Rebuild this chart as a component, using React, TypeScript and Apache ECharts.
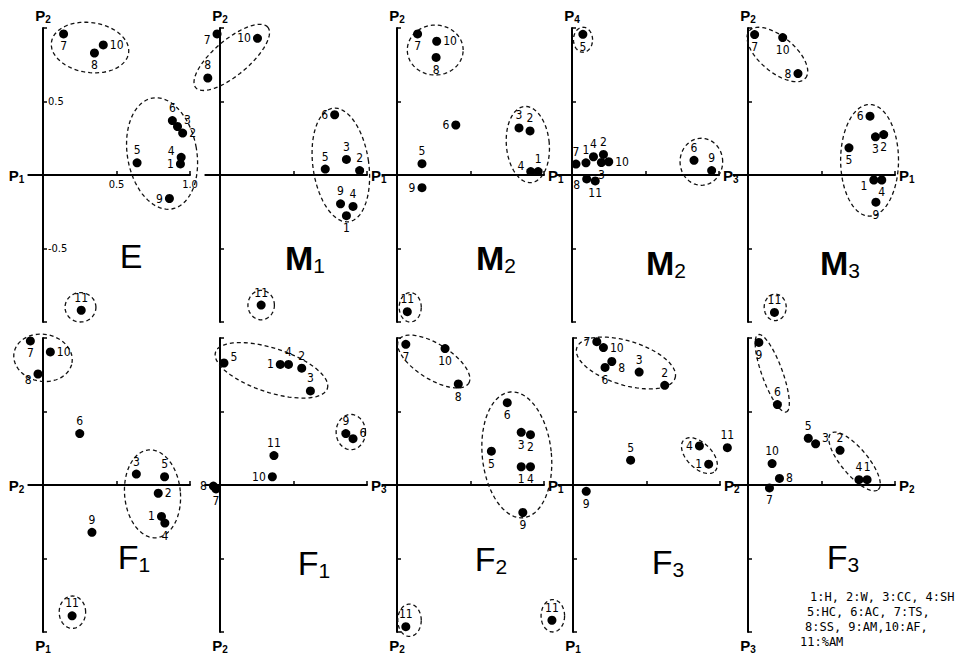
import React, { useEffect, useRef } from 'react';
import * as echarts from 'echarts';

// ---------- data ----------
const IDS_11 = [1, 2, 3, 4, 5, 6, 7, 8, 9, 10, 11];
const IDS_F2 = [1, 2, 3, 4, 5, 6, 7, 8, 9, 10, 11, 11];
const IDS_10 = [1, 2, 3, 4, 5, 6, 7, 8, 9, 10];

// E : P2 vs P1
const E_X = [0.935, 0.95, 0.915, 0.94, 0.64, 0.88, 0.14, 0.35, 0.86, 0.41, 0.26];
const E_Y = [0.075, 0.285, 0.33, 0.12, 0.083, 0.37, 0.96, 0.83, -0.16, 0.885, -0.92];
// M1 : P2 vs P1
const M1_X = [0.86, 0.95, 0.86, 0.905, 0.716, 0.78, -0.02, -0.083, 0.82, 0.255, 0.28];
const M1_Y = [-0.277, 0.03, 0.106, -0.214, 0.04, 0.41, 0.96, 0.66, -0.196, 0.93, -0.885];
// M2 : P2 vs P1
const M2A_X = [0.96, 0.905, 0.83, 0.91, 0.17, 0.4, 0.14, 0.266, 0.17, 0.27, 0.07];
const M2A_Y = [0.023, 0.3, 0.32, 0.023, 0.077, 0.34, 0.96, 0.8, -0.086, 0.91, -0.93];
// M2 : P4 vs P3
const M2B_X = [0.095, 0.214, 0.2, 0.146, 0.074, 0.83, 0.027, 0.1, 0.95, 0.25, 0.158];
const M2B_Y = [0.083, 0.14, 0.085, 0.124, 0.957, 0.1, 0.074, -0.027, 0.03, 0.09, -0.04];
// M3 : P2 vs P1
const M3_X = [0.856, 0.923, 0.867, 0.91, 0.687, 0.83, 0.045, 0.34, 0.87, 0.236, 0.18];
const M3_Y = [-0.034, 0.275, 0.26, -0.034, 0.185, 0.4, 0.955, 0.69, -0.185, 0.935, -0.935];
// F1 : P1 vs P2
const F1A_X = [0.806, 0.784, 0.635, 0.829, 0.827, 0.25, -0.086, -0.034, 0.333, 0.05, 0.198];
const F1A_Y = [-0.214, -0.056, 0.074, -0.259, 0.056, 0.35, 0.98, 0.755, -0.322, 0.905, -0.89];
// F1 : P2 vs P3
const F1B_X = [0.41, 0.556, 0.615, 0.466, 0.027, 0.905, -0.027, -0.045, 0.856, 0.356, 0.367];
const F1B_Y = [0.82, 0.795, 0.64, 0.82, 0.83, 0.315, -0.027, -0.007, 0.35, 0.056, 0.2];
// F2 : P2 vs P1
const F2_X = [0.845, 0.908, 0.845, 0.908, 0.642, 0.75, 0.06, 0.417, 0.856, 0.327, 0.06, 1.054];
const F2_Y = [0.124, 0.342, 0.358, 0.124, 0.23, 0.56, 0.957, 0.687, -0.187, 0.928, -0.964, -0.92];
// F3 : P1 vs P2
const F3A_X = [0.923, 0.624, 0.45, 0.86, 0.392, 0.218, 0.162, 0.264, 0.09, 0.207, 1.05];
const F3A_Y = [0.142, 0.678, 0.768, 0.266, 0.169, 0.8, 0.975, 0.84, -0.043, 0.935, 0.254];
// F3 : P3 vs P2
const F3B_X = [0.81, 0.626, 0.46, 0.755, 0.41, 0.2, 0.146, 0.214, 0.074, 0.164];
const F3B_Y = [0.036, 0.236, 0.28, 0.036, 0.318, 0.547, -0.02, 0.045, 0.97, 0.146];

// dashed cluster outlines: [cx, cy, rx, ry, rotationDeg] in data units
const E_CL = [[0.32, 0.867, 0.265, 0.17, -8], [0.81, 0.146, 0.236, 0.383, 10], [0.255, -0.9, 0.105, 0.1, 0]];
const M1_CL = [[0.08, 0.8, 0.32, 0.12, 40], [0.822, 0.068, 0.19, 0.39, 8], [0.28, -0.885, 0.09, 0.1, 0]];
const M2A_CL = [[0.26, 0.85, 0.19, 0.17, 0], [0.89, 0.207, 0.146, 0.26, 5], [0.09, -0.9, 0.075, 0.1, 0]];
const M2B_CL = [[0.075, 0.92, 0.065, 0.085, 0], [0.88, 0.09, 0.145, 0.16, 0]];
const M3_CL = [[0.2, 0.82, 0.25, 0.12, -40], [0.827, 0.1, 0.197, 0.38, 0], [0.185, -0.9, 0.075, 0.09, 0]];
const F1A_CL = [[0.0, 0.865, 0.2, 0.16, -10], [0.745, -0.06, 0.19, 0.3, 5], [0.2, -0.865, 0.09, 0.11, 0]];
const F1B_CL = [[0.35, 0.78, 0.4, 0.15, -18], [0.89, 0.36, 0.1, 0.12, 0]];
const F2_CL = [[0.25, 0.84, 0.28, 0.12, -32], [0.815, 0.205, 0.235, 0.43, 6], [0.085, -0.92, 0.08, 0.11, 0], [1.06, -0.89, 0.08, 0.11, 0]];
const F3A_CL = [[0.36, 0.83, 0.35, 0.15, -17], [0.86, 0.2, 0.15, 0.085, -45]];
const F3B_CL = [[0.165, 0.76, 0.28, 0.07, -70], [0.725, 0.16, 0.25, 0.09, -50]];

// label placement per point (style)
const E_LB = ['l', 'r', 'tr', 'tl', 't', 't', 'b', 'b', 'l', 'r', 't'];
const M1_LB = ['b', 't', 't', 't', 't', 'l', 'bl', 't', 't', 'l', 't'];
const M2A_LB = ['t', 't', 't', 'tl', 't', 'l', 'b', 'b', 'l', 'r', 't'];
const M2B_LB = ['t', 't', 'b', 't', 'b', 't', 't', 'bl', 't', 'r', 'b'];
const M3_LB = ['bl', 'b', 'b', 'b', 'b', 'l', 'b', 'l', 'b', 'b', 't'];
const F1A_LB = ['l', 'r', 't', 'b', 't', 't', 'b', 'bl', 't', 'r', 't'];
const F1B_LB = ['l', 't', 't', 't', 'tr', 'tr', 'b', 'l', 't', 'l', 't'];
const F2_LB = ['b', 'b', 'b', 'b', 'b', 'b', 'b', 'b', 'b', 'b', 't', 't'];
const F3A_LB = ['l', 't', 't', 'l', 't', 'b', 'l', 'br', 'b', 'r', 't'];
const F3B_LB = ['t', 't', 'tr', 't', 't', 't', 'b', 'r', 'b', 't'];

const LEGEND_LINES = ['1:H, 2:W, 3:CC, 4:SH', '5:HC, 6:AC, 7:TS,', '8:SS, 9:AM,10:AF,', '11:%AM'];

// ---------- layout / style ----------
const U = 147;
const INK = '#000';
const LABEL_FONT = "'Liberation Sans Narrow', 'DejaVu Sans Condensed', 'Liberation Sans', Arial, sans-serif";
const TITLE_FONT = "'Liberation Sans', Arial, sans-serif";

const PANELS = [
  { t: ['E', ''], ids: IDS_11, xs: E_X, ys: E_Y, lb: E_LB, cl: E_CL, xn: '1', yn: '2', xLoc: 'start', yLoc: 'end', ax: 43, ay: 175, tc: [131, 256], bold: false },
  { t: ['M', '1'], ids: IDS_11, xs: M1_X, ys: M1_Y, lb: M1_LB, cl: M1_CL, xn: '1', yn: '2', xLoc: 'end', yLoc: 'end', ax: 220, ay: 175, tc: [305, 258], bold: true },
  { t: ['M', '2'], ids: IDS_11, xs: M2A_X, ys: M2A_Y, lb: M2A_LB, cl: M2A_CL, xn: '1', yn: '2', xLoc: 'end', yLoc: 'end', ax: 397, ay: 175, tc: [496, 258], bold: true },
  { t: ['M', '2'], ids: IDS_11, xs: M2B_X, ys: M2B_Y, lb: M2B_LB, cl: M2B_CL, xn: '3', yn: '4', xLoc: 'end', yLoc: 'end', ax: 572, ay: 175, tc: [666, 263], bold: true },
  { t: ['M', '3'], ids: IDS_11, xs: M3_X, ys: M3_Y, lb: M3_LB, cl: M3_CL, xn: '1', yn: '2', xLoc: 'end', yLoc: 'end', ax: 748, ay: 175, tc: [840, 263], bold: true },
  { t: ['F', '1'], ids: IDS_11, xs: F1A_X, ys: F1A_Y, lb: F1A_LB, cl: F1A_CL, xn: '2', yn: '1', xLoc: 'start', yLoc: 'start', ax: 43, ay: 485, tc: [134, 557], bold: false },
  { t: ['F', '1'], ids: IDS_11, xs: F1B_X, ys: F1B_Y, lb: F1B_LB, cl: F1B_CL, xn: '3', yn: '2', xLoc: 'end', yLoc: 'start', ax: 220, ay: 485, tc: [314, 563], bold: false },
  { t: ['F', '2'], ids: IDS_F2, xs: F2_X, ys: F2_Y, lb: F2_LB, cl: F2_CL, xn: '1', yn: '2', xLoc: 'end', yLoc: 'start', ax: 397, ay: 485, tc: [491, 559], bold: false },
  { t: ['F', '3'], ids: IDS_11, xs: F3A_X, ys: F3A_Y, lb: F3A_LB, cl: F3A_CL, xn: '2', yn: '1', xLoc: 'end', yLoc: 'start', ax: 573, ay: 485, tc: [668, 562], bold: false },
  { t: ['F', '3'], ids: IDS_10, xs: F3B_X, ys: F3B_Y, lb: F3B_LB, cl: F3B_CL, xn: '2', yn: '3', xLoc: 'end', yLoc: 'start', ax: 748, ay: 485, tc: [843, 557], bold: false },
];

const POS: Record<string, any> = {
  t: { position: 'top' },
  b: { position: 'bottom' },
  l: { position: 'left' },
  r: { position: 'right' },
  tl: { position: 'left', offset: [0, -6] },
  bl: { position: 'left', offset: [0, 6] },
  tr: { position: 'right', offset: [0, -6] },
  br: { position: 'right', offset: [0, 6] },
};

const LABEL_STYLE = { show: true, formatter: '{b}', fontSize: 12, color: INK, fontFamily: LABEL_FONT, distance: 2 };

const nameStyle = {
  rich: {
    p: { fontSize: 15, fontWeight: 'bold', fontFamily: TITLE_FONT, color: INK, lineHeight: 18 },
    s: { fontSize: 10, fontWeight: 'bold', fontFamily: TITLE_FONT, color: INK, lineHeight: 10, verticalAlign: 'bottom' },
  },
};

const renderEllipse = (params: any, api: any) => {
  const cx = api.value(0), cy = api.value(1), rx = api.value(2), ry = api.value(3);
  const rot = (api.value(4) * Math.PI) / 180;
  const pts: number[][] = [];
  const n = 72;
  for (let k = 0; k < n; k++) {
    const t = (k / n) * Math.PI * 2;
    const dx = rx * Math.cos(t), dy = ry * Math.sin(t);
    pts.push(api.coord([cx + dx * Math.cos(rot) - dy * Math.sin(rot), cy + dx * Math.sin(rot) + dy * Math.cos(rot)]));
  }
  return {
    type: 'polygon',
    shape: { points: pts },
    style: { fill: 'none', stroke: '#111', lineWidth: 1.3, lineDash: [4, 3] },
  };
};

function buildOption() {
  const grid: any[] = [], xAxis: any[] = [], yAxis: any[] = [], series: any[] = [], elements: any[] = [];
  const X_MIN = -0.1, X_MAX = 1.0, Y_MIN = -1, Y_MAX = 1;
  PANELS.forEach((p, i) => {
    grid.push({ left: p.ax + X_MIN * U, top: p.ay - Y_MAX * U, width: (X_MAX - X_MIN) * U, height: (Y_MAX - Y_MIN) * U });
    xAxis.push({
      gridIndex: i, type: 'value', min: X_MIN, max: X_MAX, position: 'bottom',
      // axis drawn through y = 0 (moved up from the grid's bottom edge)
      offset: Y_MIN * U,
      name: `{p|P}{s|${p.xn}}`, nameLocation: p.xLoc, nameGap: 4, nameTextStyle: nameStyle,
      axisLine: { onZero: false, lineStyle: { color: INK, width: 2 } },
      axisTick: { show: true, inside: true, length: 4, customValues: [0.5, 1.0], lineStyle: { color: INK, width: 1.5 } },
      axisLabel: i === 0
        ? { show: true, customValues: [0.5, 1.0], formatter: (v: number) => v.toFixed(1), fontSize: 11, color: INK, fontFamily: LABEL_FONT, margin: 4 }
        : { show: false },
      splitLine: { show: false },
    });
    yAxis.push({
      gridIndex: i, type: 'value', min: Y_MIN, max: Y_MAX, position: 'left',
      // axis drawn through x = 0 (moved right from the grid's left edge)
      offset: X_MIN * U,
      name: `{p|P}{s|${p.yn}}`, nameLocation: p.yLoc, nameGap: 4, nameTextStyle: nameStyle,
      axisLine: { onZero: false, lineStyle: { color: INK, width: 2 } },
      axisTick: { show: true, inside: true, length: 4, customValues: [-1, -0.5, 0.5, 1], lineStyle: { color: INK, width: 1.5 } },
      axisLabel: i === 0
        ? { show: true, inside: true, customValues: [-0.5, 0.5], formatter: (v: number) => v.toFixed(1), fontSize: 11, color: INK, fontFamily: LABEL_FONT, margin: 5 }
        : { show: false },
      splitLine: { show: false },
    });
    series.push({
      type: 'custom', xAxisIndex: i, yAxisIndex: i, silent: true, z: 2,
      renderItem: renderEllipse, data: p.cl,
    });
    series.push({
      type: 'scatter', xAxisIndex: i, yAxisIndex: i, silent: true, z: 3, clip: false,
      symbolSize: 9, itemStyle: { color: INK, opacity: 1 },
      label: LABEL_STYLE,
      data: p.ids.map((id, k) => ({
        name: String(id),
        value: [p.xs[k], p.ys[k]],
        label: { ...LABEL_STYLE, ...POS[p.lb[k]] },
      })),
    });
    elements.push({
      type: 'text', x: p.tc[0], y: p.tc[1], silent: true,
      style: {
        text: `{m|${p.t[0]}}{s|${p.t[1]}}`,
        align: 'center', verticalAlign: 'middle', textAlign: 'center', textVerticalAlign: 'middle',
        rich: {
          m: { fontSize: 34, fontFamily: TITLE_FONT, fontWeight: p.bold ? 'bold' : 'normal', fill: INK, lineHeight: 36 },
          s: { fontSize: 21, fontFamily: TITLE_FONT, fill: INK, lineHeight: 22, verticalAlign: 'bottom' },
        },
      },
    });
  });
  const legendPos = [[810, 597], [807, 612], [805, 627], [800, 642]];
  LEGEND_LINES.forEach((line, k) => {
    elements.push({
      type: 'text', x: legendPos[k][0], y: legendPos[k][1], silent: true,
      style: {
        text: line, fill: INK, fontSize: 12, fontFamily: "'DejaVu Sans Mono', monospace",
        align: 'left', verticalAlign: 'middle', textAlign: 'left', textVerticalAlign: 'middle',
      },
    });
  });
  return {
    animation: false,
    backgroundColor: '#fff',
    grid, xAxis, yAxis, series,
    graphic: { elements },
  };
}

export default function App() {
  const ref = useRef<HTMLDivElement>(null);
  useEffect(() => {
    if (!ref.current) return;
    const chart = echarts.init(ref.current, undefined, { renderer: 'svg' });
    chart.setOption(buildOption() as any);
    return () => chart.dispose();
  }, []);
  return (
    <div
      ref={ref}
      style={{ position: 'fixed', left: 0, top: 0, width: 957, height: 665, background: '#fff' }}
    />
  );
}
